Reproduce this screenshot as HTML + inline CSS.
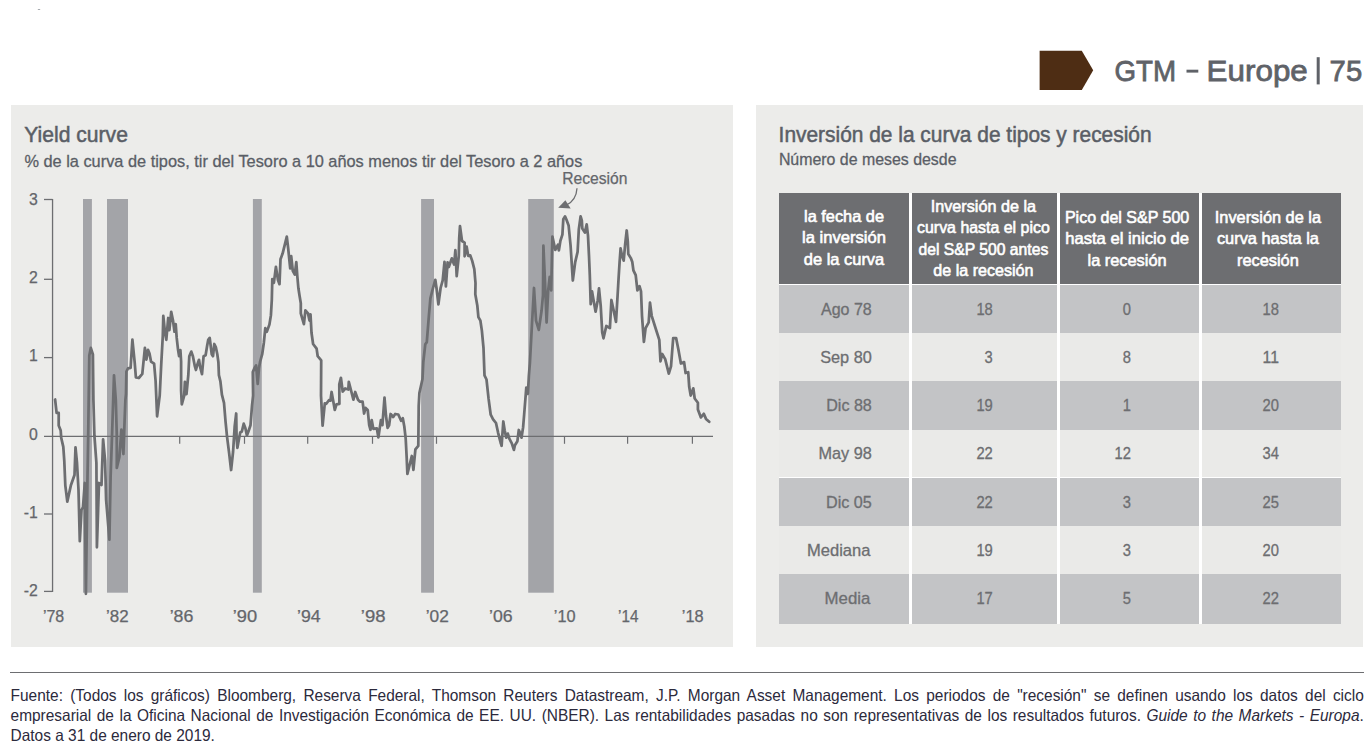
<!DOCTYPE html>
<html lang="es">
<head>
<meta charset="utf-8">
<title>GTM – Europe | 75</title>
<style>
html,body{margin:0;padding:0;background:#fff;}
body{width:1372px;height:755px;position:relative;overflow:hidden;font-family:"Liberation Sans",sans-serif;}
.abs{position:absolute;}
.chart{position:absolute;left:0;top:0;}
svg text{font-family:"Liberation Sans",sans-serif;}
.ax{font-size:15.8px;fill:#64666b;stroke:#64666b;stroke-width:0.25px;}
.th{font-size:16.5px;font-weight:400;fill:#fff;stroke:#fff;stroke-width:0.6px;}
.td{font-size:15.7px;fill:#6d6e71;stroke:#6d6e71;stroke-width:0.3px;}
.title{font-size:21.3px;fill:#5a5e66;stroke:#5a5e66;stroke-width:0.5px;}
.sub{font-size:17.2px;fill:#5a5e66;stroke:#5a5e66;stroke-width:0.3px;}
.hd{font-size:30.4px;fill:#5f6268;stroke:#5f6268;stroke-width:0.8px;}
.foot{position:absolute;left:10.6px;top:685px;width:1353.2px;font-size:15.45px;line-height:19.57px;color:#2c2a3c;transform:scaleY(1.04);transform-origin:0 0;}
.foot div{text-align:justify;text-align-last:justify;white-space:nowrap;}
.foot div.last{text-align:left;text-align-last:left;}
</style>
</head>
<body>
<div class="abs" style="left:37px;top:9px;width:4px;height:1px;background:#f3f1ef"></div><div class="abs" style="left:38px;top:9px;width:2px;height:1px;background:#a6abb1"></div>
<div class="abs" style="left:11px;top:105px;width:721.6px;height:542px;background:#ececea"></div>
<div class="abs" style="left:756px;top:105px;width:607px;height:542px;background:#ececea"></div>
<svg class="chart" width="1372" height="755" viewBox="0 0 1372 755">
<path d="M1039.6 50.8 H1081.8 L1093.2 70.3 L1081.8 89.9 H1039.6 Z" fill="#4e2d14"/>
<text x="1114.4" y="80.7" class="hd" textLength="61.6" lengthAdjust="spacingAndGlyphs">GTM</text>
<rect x="1186.5" y="69.7" width="11.8" height="2.9" fill="#5f6268"/>
<text x="1206.6" y="80.7" class="hd" textLength="101.2" lengthAdjust="spacingAndGlyphs">Europe</text>
<rect x="1316.7" y="57.2" width="3.0" height="27.2" fill="#5f6268"/>
<text x="1329.6" y="80.7" class="hd" textLength="32.6" lengthAdjust="spacingAndGlyphs">75</text>
<text x="24.3" y="141.5" class="title" textLength="103.6" lengthAdjust="spacingAndGlyphs">Yield curve</text>
<text x="24.4" y="167" class="sub" textLength="558" lengthAdjust="spacingAndGlyphs">% de la curva de tipos, tir del Tesoro a 10 años menos tir del Tesoro a 2 años</text>
<text x="778.6" y="141.5" class="title" textLength="373" lengthAdjust="spacingAndGlyphs">Inversión de la curva de tipos y recesión</text>
<text x="778.9" y="165" class="sub" textLength="177.6" lengthAdjust="spacingAndGlyphs" style="font-size:16.8px">Número de meses desde</text>
</svg>
<svg class="chart" width="1372" height="755" viewBox="0 0 1372 755"><rect x="83.0" y="199" width="8.9" height="393.7" fill="#a3a4a8"/><rect x="107.0" y="199" width="21.0" height="393.7" fill="#a3a4a8"/><rect x="252.9" y="199" width="8.9" height="393.7" fill="#a3a4a8"/><rect x="421.1" y="199" width="12.9" height="393.7" fill="#a3a4a8"/><rect x="528.2" y="199" width="25.6" height="393.7" fill="#a3a4a8"/><path d="M52.55 199 V592" stroke="#6d6e71" stroke-width="1.3" fill="none"/><path d="M44 199.5 H52.5" stroke="#6d6e71" stroke-width="1.3" fill="none"/><path d="M44 279.3 H52.5" stroke="#6d6e71" stroke-width="1.3" fill="none"/><path d="M44 357.6 H52.5" stroke="#6d6e71" stroke-width="1.3" fill="none"/><path d="M44 514.0 H52.5" stroke="#6d6e71" stroke-width="1.3" fill="none"/><path d="M44 591.4 H52.5" stroke="#6d6e71" stroke-width="1.3" fill="none"/><path d="M44 436.4 H713" stroke="#6d6e71" stroke-width="1.3" fill="none"/><path d="M116.5 436.3 V443.8" stroke="#6d6e71" stroke-width="1.2" fill="none"/><path d="M179.7 436.3 V443.8" stroke="#6d6e71" stroke-width="1.2" fill="none"/><path d="M244.5 436.3 V443.8" stroke="#6d6e71" stroke-width="1.2" fill="none"/><path d="M307.7 436.3 V443.8" stroke="#6d6e71" stroke-width="1.2" fill="none"/><path d="M372.5 436.3 V443.8" stroke="#6d6e71" stroke-width="1.2" fill="none"/><path d="M436.5 436.3 V443.8" stroke="#6d6e71" stroke-width="1.2" fill="none"/><path d="M500.4 436.3 V443.8" stroke="#6d6e71" stroke-width="1.2" fill="none"/><path d="M564.5 436.3 V443.8" stroke="#6d6e71" stroke-width="1.2" fill="none"/><path d="M627.6 436.3 V443.8" stroke="#6d6e71" stroke-width="1.2" fill="none"/><path d="M692.4 436.3 V443.8" stroke="#6d6e71" stroke-width="1.2" fill="none"/><polyline points="55.1,399.5 56.6,412.8 58.7,412.8 58.7,425.5 60.7,430.6 61.2,437.8 63.3,446.9 64.3,461.2 65.3,485.3 67.3,501.6 70.9,485.3 74.5,475 75.5,447.4 77,463 78.5,490 79.8,541.2 81.5,510 83,507 84.8,483 85.9,593.8 87.5,477 88.2,435.7 89.3,355.5 90.8,347.9 92.9,354.5 93.4,400 94.4,435.7 96.4,463 96.9,547.3 99,483 101.5,485 103.1,439.3 105.1,461 106.1,499.6 109.4,539.7 110.6,477 112.2,430.6 114,375.4 115.8,400 116.8,435.7 116.8,467.9 119.4,457 121.4,429.6 123.4,454 124.6,420.4 125.4,400 126.0,394 126.4,371.5 128,368.3 130.6,367.8 132.4,339.7 134.7,362.7 135.9,377.5 138.8,378 142.3,373.9 144.9,347.9 146.4,359.6 148,349.9 149.5,353.5 151,361.6 154.1,363.7 155.6,381 157.1,416.3 159.7,395.6 161.2,365 162.8,335.8 163.3,315.9 164.8,330.7 166.3,339.9 168.2,318 169.4,330.2 171.2,311.8 173,320.5 174.5,331.7 175.7,324.1 176.7,337.9 178.1,350.1 179.1,356.2 180.4,350.1 181.1,361.3 181.1,390.5 181.8,404.3 184.2,395.6 184.9,381.8 186.5,394.1 188.3,375.2 189.3,356.2 191.3,351.6 192.9,356.2 194.9,366.4 195.9,370 197.4,364.4 199,359.8 200,366.4 202,374.2 203.6,356.2 205.6,355.2 207.1,346 208.2,339.9 209.7,337.9 210.7,346 211.7,354.2 213,356.2 214.3,344 215.8,347 217.3,354.2 218.4,362.3 218.9,375.2 220.4,381.3 221.9,394.6 224,402.8 225.5,421.1 227,436.4 229.1,452.8 231.1,470 233.1,451.5 234.7,426.2 236.2,413.5 236.6,438.2 237.4,447.8 239.1,438.2 240.3,432.3 241.8,431.8 243.7,423.7 245.4,428.3 246.9,435.4 248.5,431.3 250.5,425.2 252,405.8 253.1,395.6 252.8,372.1 254.5,368 256.1,365.5 257.7,383.9 259,368 260.2,361.3 262.2,354.2 263.8,343 265.3,328.2 266.8,331.7 269.4,324.6 270.9,315.4 271.8,300 272.3,279.1 273.9,282.7 275.9,266.8 278,280.1 279.5,284.2 280.5,259.2 282.6,253.6 286.8,236.7 288.2,248.5 290.2,268.4 291.2,256.1 292.8,270.9 294.8,274.5 296.3,262.2 297.3,276 298.4,288.3 299.6,296 300.8,303.2 300.8,313.4 303.9,324.1 305.4,310.3 308,313.4 309.5,320.5 310.5,314.4 311.5,332.8 313.1,344 316.6,348.6 317.7,356.2 321.2,360.3 321,395.6 322.6,425.7 324.8,403.3 326.3,403.8 328.9,400.2 330.4,400.7 331.6,392 333,399.7 334.8,409.9 336.5,404.3 339.4,403.8 339.3,384.4 340.9,377.8 342.7,391.5 345.2,388.5 348.3,389.5 348.8,381.8 350.8,389.5 353.4,399.7 355.2,392 358,399.7 360,401.7 362.6,401.7 364.1,413.5 365.6,407.9 367.7,409.9 369.2,425.2 370.5,429.8 371.7,420.1 373.3,428.8 376.8,428.3 378.4,437.4 380.9,420.1 382.4,425.2 384.5,397.7 386,416 387.6,427.8 389.1,425.2 390.6,414 393.2,417 395.2,414 398.3,414.5 401.1,420.7 402.8,418.2 404.3,426.5 405.7,438.7 406.7,458.1 407.4,473.9 411.8,456 413.4,469.8 415.4,449.4 418.3,445.8 418.7,405.8 419.4,393 422.5,379 423.3,362 425.3,344.2 426.8,342.1 428.9,315.6 430.4,298.3 433,288 435.3,279.8 436.5,288 438.4,304.4 440.6,288 442.7,280.3 444.5,261.9 445.9,286.4 447.6,262.4 448.8,267 451.8,258.4 454.1,264.5 455.4,250.2 456.7,276.2 458.8,255.8 459.2,238.5 460,226.2 462,241 464.6,242.6 464.6,256.3 466.6,246.6 468.2,255.8 470.2,255.3 472.2,260.9 474.3,269.1 475.5,283 475.3,294.2 477.3,305.4 478.4,317.1 480.4,320.7 481.9,330.9 483.5,348 484.5,375.4 486.5,379.5 488.6,398.9 490.7,414.7 493.1,419.3 496,423 498,432.3 500.1,440.7 501.6,445.8 503.3,421.5 504.7,430.5 506.2,437.7 507.8,433.6 509.3,438.7 511.8,443.3 513.9,449.9 514.9,445.3 517.4,441.2 518.8,430 520.5,434.1 521.5,437.7 523.1,427.4 524.2,414 525.8,393.8 526.3,387.7 527.9,393.8 528.9,375.4 529.9,363 531.9,325.8 534,288 536,320.7 538.8,329.9 541.6,310.5 543,295 543.4,245.7 545,282 546.6,322.5 548.2,290.3 549.7,277 551.2,290.3 552.4,236.6 555.3,249.9 557.9,244.8 558.9,250.4 560.4,240.7 562.4,234.6 563.3,219.3 565,216.4 566.5,219.8 568.6,225.4 570.6,245.8 572.8,280.5 575.2,262.1 577.6,251.9 578.8,229.5 580.6,216.4 581.8,220.3 582.3,228.5 584.9,232.6 586.7,224.4 588,235.6 589,256 589.8,275 590.7,304.1 592,291.3 593.6,300.5 595.6,311.7 597.7,300.5 599,288.3 600.7,305.6 602.2,332.1 603.5,338.3 606.3,326 609.9,328.1 611.4,300 613.5,309.7 616,321.9 617.6,295.4 618.6,278 619.6,262.1 620.6,248.4 622.1,256 623.7,260.6 625.2,243.8 626.7,230.5 627.8,241.7 628.3,254 630.8,258.1 632.3,262.1 633.4,270.3 635.7,275.2 637.4,290.3 639.5,286.2 641,291.3 642,315.8 643.9,341.8 645.6,328.1 648.7,322.4 650,302.6 651.7,315.8 655.5,328 659.3,339.8 660.5,361.3 662.2,354 665.2,359.1 668.8,373.7 671,366.4 673.2,338 676.1,338 678.3,348.9 680.9,363.5 684.1,362.1 685.6,373 688.2,372.2 689.2,386.8 690.7,395.6 693.3,388.3 694.7,398.5 697.9,402.8 697.9,409.4 700.9,417.4 703.8,413.8 706,418.9 709.2,421.8" fill="none" stroke="#6d6e71" stroke-width="2.75" stroke-linejoin="round" stroke-linecap="round"/><text x="37.9" y="204.8" class="ax" text-anchor="end">3</text><text x="37.9" y="282.7" class="ax" text-anchor="end">2</text><text x="37.9" y="361.0" class="ax" text-anchor="end">1</text><text x="37.9" y="440.0" class="ax" text-anchor="end">0</text><text x="37.9" y="517.9" class="ax" text-anchor="end">-1</text><text x="37.9" y="596.0" class="ax" text-anchor="end">-2</text><text x="53.6" y="622.4" class="ax" text-anchor="middle" textLength="21.3" lengthAdjust="spacingAndGlyphs">’78</text><text x="117.3" y="622.4" class="ax" text-anchor="middle" textLength="22.6" lengthAdjust="spacingAndGlyphs">’82</text><text x="181.5" y="622.4" class="ax" text-anchor="middle" textLength="23.7" lengthAdjust="spacingAndGlyphs">’86</text><text x="244.9" y="622.4" class="ax" text-anchor="middle" textLength="24.4" lengthAdjust="spacingAndGlyphs">’90</text><text x="308.8" y="622.4" class="ax" text-anchor="middle" textLength="23.6" lengthAdjust="spacingAndGlyphs">’94</text><text x="373.2" y="622.4" class="ax" text-anchor="middle" textLength="24.7" lengthAdjust="spacingAndGlyphs">’98</text><text x="437.3" y="622.4" class="ax" text-anchor="middle" textLength="23.1" lengthAdjust="spacingAndGlyphs">’02</text><text x="500.8" y="622.4" class="ax" text-anchor="middle" textLength="23.6" lengthAdjust="spacingAndGlyphs">’06</text><text x="564.7" y="622.4" class="ax" text-anchor="middle" textLength="21.8" lengthAdjust="spacingAndGlyphs">’10</text><text x="628.3" y="622.4" class="ax" text-anchor="middle" textLength="20.4" lengthAdjust="spacingAndGlyphs">’14</text><text x="692.7" y="622.4" class="ax" text-anchor="middle" textLength="21.8" lengthAdjust="spacingAndGlyphs">’18</text><text x="562.2" y="183.7" class="ax" textLength="65.2" lengthAdjust="spacingAndGlyphs" style="font-size:16px">Recesión</text><path d="M577 188.2 C576.6 195 573.5 201.5 566.5 205" stroke="#6d6e71" stroke-width="1.3" fill="none"/><path d="M558.2 207.7 L565.4 200.2 L570.7 208.4 Z" fill="#6d6e71"/></svg>
<div class="abs" style="left:779.3px;top:192.8px;width:561.7px;height:430.8px;background:#fff"></div><div class="abs" style="left:779.3px;top:192.8px;width:129.3px;height:91.0px;background:#6d6e71"></div><div class="abs" style="left:779.3px;top:285.0px;width:129.3px;height:47.5px;background:#c3c4c6"></div><div class="abs" style="left:779.3px;top:332.5px;width:129.3px;height:48.7px;background:#eaeae8"></div><div class="abs" style="left:779.3px;top:381.2px;width:129.3px;height:48.4px;background:#c3c4c6"></div><div class="abs" style="left:779.3px;top:429.6px;width:129.3px;height:47.9px;background:#eaeae8"></div><div class="abs" style="left:779.3px;top:477.5px;width:129.3px;height:48.3px;background:#c3c4c6"></div><div class="abs" style="left:779.3px;top:525.8px;width:129.3px;height:48.2px;background:#eaeae8"></div><div class="abs" style="left:779.3px;top:574.0px;width:129.3px;height:49.6px;background:#c3c4c6"></div><div class="abs" style="left:912.0px;top:192.8px;width:144.6px;height:91.0px;background:#6d6e71"></div><div class="abs" style="left:912.0px;top:285.0px;width:144.6px;height:47.5px;background:#c3c4c6"></div><div class="abs" style="left:912.0px;top:332.5px;width:144.6px;height:48.7px;background:#eaeae8"></div><div class="abs" style="left:912.0px;top:381.2px;width:144.6px;height:48.4px;background:#c3c4c6"></div><div class="abs" style="left:912.0px;top:429.6px;width:144.6px;height:47.9px;background:#eaeae8"></div><div class="abs" style="left:912.0px;top:477.5px;width:144.6px;height:48.3px;background:#c3c4c6"></div><div class="abs" style="left:912.0px;top:525.8px;width:144.6px;height:48.2px;background:#eaeae8"></div><div class="abs" style="left:912.0px;top:574.0px;width:144.6px;height:49.6px;background:#c3c4c6"></div><div class="abs" style="left:1059.9px;top:192.8px;width:139.0px;height:91.0px;background:#6d6e71"></div><div class="abs" style="left:1059.9px;top:285.0px;width:139.0px;height:47.5px;background:#c3c4c6"></div><div class="abs" style="left:1059.9px;top:332.5px;width:139.0px;height:48.7px;background:#eaeae8"></div><div class="abs" style="left:1059.9px;top:381.2px;width:139.0px;height:48.4px;background:#c3c4c6"></div><div class="abs" style="left:1059.9px;top:429.6px;width:139.0px;height:47.9px;background:#eaeae8"></div><div class="abs" style="left:1059.9px;top:477.5px;width:139.0px;height:48.3px;background:#c3c4c6"></div><div class="abs" style="left:1059.9px;top:525.8px;width:139.0px;height:48.2px;background:#eaeae8"></div><div class="abs" style="left:1059.9px;top:574.0px;width:139.0px;height:49.6px;background:#c3c4c6"></div><div class="abs" style="left:1202.1px;top:192.8px;width:138.9px;height:91.0px;background:#6d6e71"></div><div class="abs" style="left:1202.1px;top:285.0px;width:138.9px;height:47.5px;background:#c3c4c6"></div><div class="abs" style="left:1202.1px;top:332.5px;width:138.9px;height:48.7px;background:#eaeae8"></div><div class="abs" style="left:1202.1px;top:381.2px;width:138.9px;height:48.4px;background:#c3c4c6"></div><div class="abs" style="left:1202.1px;top:429.6px;width:138.9px;height:47.9px;background:#eaeae8"></div><div class="abs" style="left:1202.1px;top:477.5px;width:138.9px;height:48.3px;background:#c3c4c6"></div><div class="abs" style="left:1202.1px;top:525.8px;width:138.9px;height:48.2px;background:#eaeae8"></div><div class="abs" style="left:1202.1px;top:574.0px;width:138.9px;height:49.6px;background:#c3c4c6"></div>
<svg class="chart" width="1372" height="755" viewBox="0 0 1372 755"><text x="844.0" y="222.0" class="th" text-anchor="middle" textLength="80.0" lengthAdjust="spacingAndGlyphs">la fecha de</text><text x="844.0" y="243.4" class="th" text-anchor="middle" textLength="83.8" lengthAdjust="spacingAndGlyphs">la inversión</text><text x="844.0" y="264.9" class="th" text-anchor="middle" textLength="80.5" lengthAdjust="spacingAndGlyphs">de la curva</text><text x="983.4" y="211.8" class="th" text-anchor="middle" textLength="105.2" lengthAdjust="spacingAndGlyphs">Inversión de la</text><text x="983.4" y="233.2" class="th" text-anchor="middle" textLength="132.7" lengthAdjust="spacingAndGlyphs">curva hasta el pico</text><text x="983.4" y="254.7" class="th" text-anchor="middle" textLength="129.7" lengthAdjust="spacingAndGlyphs">del S&amp;P 500 antes</text><text x="983.4" y="276.1" class="th" text-anchor="middle" textLength="100.10000000000001" lengthAdjust="spacingAndGlyphs">de la recesión</text><text x="1127.1" y="222.6" class="th" text-anchor="middle" textLength="124.4" lengthAdjust="spacingAndGlyphs">Pico del S&amp;P 500</text><text x="1127.1" y="244.0" class="th" text-anchor="middle" textLength="123.8" lengthAdjust="spacingAndGlyphs">hasta el inicio de</text><text x="1127.1" y="265.5" class="th" text-anchor="middle" textLength="79.0" lengthAdjust="spacingAndGlyphs">la recesión</text><text x="1267.9" y="222.6" class="th" text-anchor="middle" textLength="106.2" lengthAdjust="spacingAndGlyphs">Inversión de la</text><text x="1267.9" y="244.0" class="th" text-anchor="middle" textLength="102.0" lengthAdjust="spacingAndGlyphs">curva hasta la</text><text x="1267.9" y="265.5" class="th" text-anchor="middle" textLength="61.900000000000006" lengthAdjust="spacingAndGlyphs">recesión</text><text x="871.8" y="314.5" class="td" text-anchor="end" textLength="50.8" lengthAdjust="spacingAndGlyphs">Ago 78</text><text x="992.8" y="314.5" class="td" text-anchor="end" textLength="16.4" lengthAdjust="spacingAndGlyphs">18</text><text x="1131.0" y="314.5" class="td" text-anchor="end" textLength="8.2" lengthAdjust="spacingAndGlyphs">0</text><text x="1279.0" y="314.5" class="td" text-anchor="end" textLength="16.4" lengthAdjust="spacingAndGlyphs">18</text><text x="871.8" y="362.8" class="td" text-anchor="end" textLength="51.6" lengthAdjust="spacingAndGlyphs">Sep 80</text><text x="992.8" y="362.8" class="td" text-anchor="end" textLength="8.2" lengthAdjust="spacingAndGlyphs">3</text><text x="1131.0" y="362.8" class="td" text-anchor="end" textLength="8.2" lengthAdjust="spacingAndGlyphs">8</text><text x="1279.0" y="362.8" class="td" text-anchor="end" textLength="16.4" lengthAdjust="spacingAndGlyphs">11</text><text x="871.8" y="411.1" class="td" text-anchor="end" textLength="45.6" lengthAdjust="spacingAndGlyphs">Dic 88</text><text x="992.8" y="411.1" class="td" text-anchor="end" textLength="16.4" lengthAdjust="spacingAndGlyphs">19</text><text x="1131.0" y="411.1" class="td" text-anchor="end" textLength="8.2" lengthAdjust="spacingAndGlyphs">1</text><text x="1279.0" y="411.1" class="td" text-anchor="end" textLength="16.4" lengthAdjust="spacingAndGlyphs">20</text><text x="871.8" y="459.4" class="td" text-anchor="end" textLength="53.3" lengthAdjust="spacingAndGlyphs">May 98</text><text x="992.8" y="459.4" class="td" text-anchor="end" textLength="16.4" lengthAdjust="spacingAndGlyphs">22</text><text x="1131.0" y="459.4" class="td" text-anchor="end" textLength="16.4" lengthAdjust="spacingAndGlyphs">12</text><text x="1279.0" y="459.4" class="td" text-anchor="end" textLength="16.4" lengthAdjust="spacingAndGlyphs">34</text><text x="871.8" y="507.7" class="td" text-anchor="end" textLength="45.8" lengthAdjust="spacingAndGlyphs">Dic 05</text><text x="992.8" y="507.7" class="td" text-anchor="end" textLength="16.4" lengthAdjust="spacingAndGlyphs">22</text><text x="1131.0" y="507.7" class="td" text-anchor="end" textLength="8.2" lengthAdjust="spacingAndGlyphs">3</text><text x="1279.0" y="507.7" class="td" text-anchor="end" textLength="16.4" lengthAdjust="spacingAndGlyphs">25</text><text x="870.4" y="556.0" class="td" text-anchor="end" textLength="63.4" lengthAdjust="spacingAndGlyphs">Mediana</text><text x="992.8" y="556.0" class="td" text-anchor="end" textLength="16.4" lengthAdjust="spacingAndGlyphs">19</text><text x="1131.0" y="556.0" class="td" text-anchor="end" textLength="8.2" lengthAdjust="spacingAndGlyphs">3</text><text x="1279.0" y="556.0" class="td" text-anchor="end" textLength="16.4" lengthAdjust="spacingAndGlyphs">20</text><text x="870.4" y="604.3" class="td" text-anchor="end" textLength="45.8" lengthAdjust="spacingAndGlyphs">Media</text><text x="992.8" y="604.3" class="td" text-anchor="end" textLength="16.4" lengthAdjust="spacingAndGlyphs">17</text><text x="1131.0" y="604.3" class="td" text-anchor="end" textLength="8.2" lengthAdjust="spacingAndGlyphs">5</text><text x="1279.0" y="604.3" class="td" text-anchor="end" textLength="16.4" lengthAdjust="spacingAndGlyphs">22</text></svg>
<div class="abs" style="left:10px;top:671.5px;width:1354px;height:1.2px;background:#6d6e71"></div>
<div class="foot">
<div>Fuente: (Todos los gráficos) Bloomberg, Reserva Federal, Thomson Reuters Datastream, J.P. Morgan Asset Management. Los periodos de "recesión" se definen usando los datos del ciclo</div>
<div>empresarial de la Oficina Nacional de Investigación Económica de EE. UU. (NBER). Las rentabilidades pasadas no son representativas de los resultados futuros. <i>Guide to the Markets - Europa</i>.</div>
<div class="last">Datos a 31 de enero de 2019.</div>
</div>
</body>
</html>
